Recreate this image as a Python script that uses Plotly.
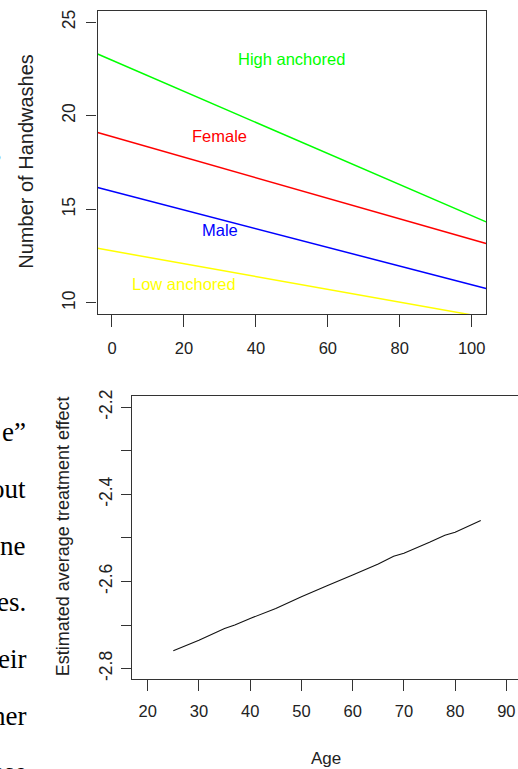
import plotly.graph_objects as go

W, H = 518, 769

# ---------------- top chart data ----------------
groups = ["High anchored", "Female", "Male", "Low anchored"]
intercepts = [22.96, 18.88, 15.96, 12.78]
slopes = [-0.083, -0.0549, -0.0499, -0.0342]
group_colors = ["#00FF00", "#FF0000", "#0000FF", "#FFFF00"]
label_ages = [50, 30, 30, 20]
label_values = [23.0, 18.9, 13.9, 11.0]
top_xticks = [0, 20, 40, 60, 80, 100]
top_yticks = [10, 15, 20, 25]
top_xrange = [-4, 104]
top_yrange = [9.4, 25.6]

# ---------------- bottom chart data ----------------
ages = [25, 28, 30, 35, 37, 40, 45, 50, 53, 55, 60, 65, 68, 70, 75, 78, 80, 85]
effects = [-2.759, -2.745, -2.735, -2.708, -2.700, -2.685, -2.662, -2.635, -2.619,
           -2.610, -2.585, -2.560, -2.542, -2.535, -2.510, -2.494, -2.487, -2.460]
bottom_xticks = [20, 30, 40, 50, 60, 70, 80, 90]
bottom_yticks = [-2.8, -2.7, -2.6, -2.5, -2.4, -2.3, -2.2]
bottom_yticktext = ["-2.8", "", "-2.6", "", "-2.4", "", "-2.2"]
bottom_xrange = [17.0, 92.27]
bottom_yrange = [-2.824, -2.174]

# surrounding document text fragments (cropped page)
doc_fragments = ["e\u201d", "out", "ne", "es.", "eir", "her", "ese"]
doc_rows = [432, 489, 546, 602, 659, 716, 772]

SANS = "Liberation Sans, Arial, sans-serif"
SERIF = "Liberation Serif, Times New Roman, serif"
INK = "#222222"
AX = "#333333"

fig = go.Figure()

# top: fitted lines (intercept + slope * age) across the axis span
for g, a, b, c in zip(groups, intercepts, slopes, group_colors):
    xs = top_xrange
    ys = [a + b * x for x in xs]
    fig.add_trace(go.Scatter(x=xs, y=ys, mode="lines", line=dict(color=c, width=1.5),
                             name=g, showlegend=False, xaxis="x", yaxis="y"))

# bottom: estimated average treatment effect by age
fig.add_trace(go.Scatter(x=ages, y=effects, mode="lines",
                         line=dict(color="#111111", width=1.1),
                         showlegend=False, xaxis="x2", yaxis="y2"))

annotations = []
for g, xa, ya, c in zip(groups, label_ages, label_values, group_colors):
    annotations.append(dict(x=xa, y=ya, xref="x", yref="y", text=g, showarrow=False,
                            xanchor="center", yanchor="middle",
                            font=dict(family=SANS, size=16.5, color=c)))

annotations.append(dict(x=26 / W, y=1 - 161.7 / H, xref="paper", yref="paper",
                        text="Number of Handwashes", textangle=-90, showarrow=False,
                        xanchor="center", yanchor="middle",
                        font=dict(family=SANS, size=20, color=INK)))
annotations.append(dict(x=62.5 / W, y=1 - 536.7 / H, xref="paper", yref="paper",
                        text="Estimated average treatment effect", textangle=-90,
                        xanchor="center", yanchor="middle",
                        showarrow=False, font=dict(family=SANS, size=18, color=INK)))
annotations.append(dict(x=326 / W, y=1 - 758 / H, xref="paper", yref="paper",
                        text="Age", showarrow=False, xanchor="center", yanchor="middle",
                        font=dict(family=SANS, size=17, color=INK)))

for t, r in zip(doc_fragments, doc_rows):
    annotations.append(dict(x=28 / W, y=1 - r / H, xref="paper", yref="paper",
                            text=t, showarrow=False, xanchor="right", yanchor="middle",
                            font=dict(family=SERIF, size=27, color="#000000")))
annotations.append(dict(x=4 / W, y=1 - 149 / H, xref="paper", yref="paper",
                        text=",", showarrow=False, xanchor="right", yanchor="middle",
                        font=dict(family=SERIF, size=27, color="#000000")))

common_axis = dict(showgrid=False, zeroline=False, showline=True, linecolor=AX,
                   linewidth=1.3, ticks="outside", tickcolor=AX, tickwidth=1.3,
                   automargin=False)

fig.update_layout(
    template="none",
    width=W, height=H,
    margin=dict(l=0, r=0, t=0, b=0, pad=0),
    paper_bgcolor="white", plot_bgcolor="white",
    showlegend=False,
    xaxis=dict(domain=[97.6 / W, 486.1 / W], range=top_xrange, tickvals=top_xticks,
               mirror=True, ticklen=12, ticklabelstandoff=7,
               tickfont=dict(family=SANS, size=16.5, color=INK), anchor="y",
               **common_axis),
    yaxis=dict(domain=[1 - 314.2 / H, 1 - 10.8 / H], range=top_yrange, tickvals=top_yticks,
               mirror=True, ticklen=10, tickangle=-90, ticklabelstandoff=4,
               tickfont=dict(family=SANS, size=17.5, color=INK), anchor="x",
               **common_axis),
    xaxis2=dict(domain=[132.3 / W, 1.0], range=bottom_xrange, tickvals=bottom_xticks,
                mirror=True, ticklen=11, ticklabelstandoff=6,
                tickfont=dict(family=SANS, size=16.5, color=INK), anchor="y2",
                **common_axis),
    yaxis2=dict(domain=[1 - 679 / H, 1 - 396 / H], range=bottom_yrange,
                tickvals=bottom_yticks, ticktext=bottom_yticktext,
                mirror=False, ticklen=10, tickangle=-90, ticklabelstandoff=2,
                tickfont=dict(family=SANS, size=17.5, color=INK), anchor="x2",
                **common_axis),
    annotations=annotations,
)

fig.write_html(
    "out.html",
    config={"displayModeBar": False},
    post_script="document.body.style.margin='0';document.body.style.overflow='hidden';",
)
